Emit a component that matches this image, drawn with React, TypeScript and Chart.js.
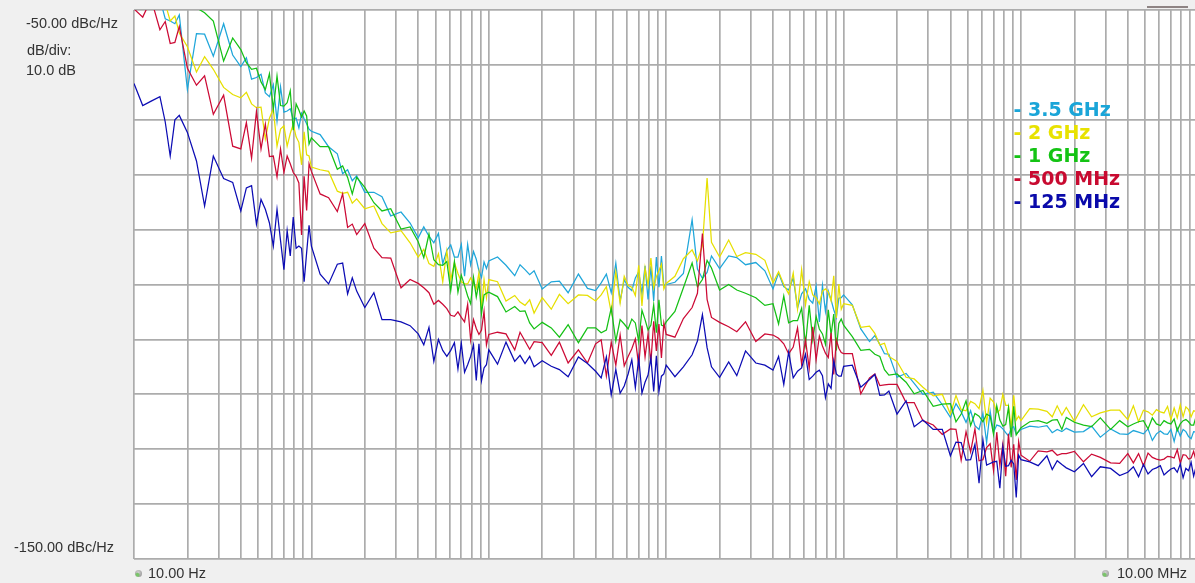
import React, { useEffect, useRef } from 'react';
import { Chart, registerables } from 'chart.js';

Chart.register(...registerables);

// Offset frequency (Hz), shared by every trace
const FREQS = [
  10, 11.2, 12.5, 14, 15, 16, 17, 18, 20, 22.5, 25, 28, 32, 36, 40, 43, 46, 49, 52, 55, 58, 61, 64, 67, 70, 73, 76, 79, 82, 85, 88, 91, 94, 97,
  100, 112, 125, 140, 150, 160, 170, 180, 200, 225, 250, 280, 320, 360, 400, 430, 460, 490, 520, 550, 580, 610, 640, 670, 700, 730, 760, 790, 820, 850, 880, 910, 940, 970,
  1000, 1120, 1250, 1400, 1500, 1600, 1700, 1800, 2000, 2250, 2500, 2800, 3200, 3600, 4000, 4300, 4600, 4900, 5200, 5500, 5800, 6100, 6400, 6700, 7000, 7300, 7600, 7900, 8200, 8500, 8800, 9100, 9400, 9700,
  1e4, 1.12e4, 1.25e4, 1.4e4, 1.5e4, 1.6e4, 1.7e4, 1.8e4, 2e4, 2.25e4, 2.5e4, 2.8e4, 3.2e4, 3.6e4, 4e4, 4.3e4, 4.6e4, 4.9e4, 5.2e4, 5.5e4, 5.8e4, 6.1e4, 6.4e4, 6.7e4, 7e4, 7.3e4, 7.6e4, 7.9e4, 8.2e4, 8.5e4, 8.8e4, 9.1e4, 9.4e4, 9.7e4,
  1e5, 1.12e5, 1.25e5, 1.4e5, 1.5e5, 1.6e5, 1.7e5, 1.8e5, 2e5, 2.25e5, 2.5e5, 2.8e5, 3.2e5, 3.6e5, 4e5, 4.3e5, 4.6e5, 4.9e5, 5.2e5, 5.5e5, 5.8e5, 6.1e5, 6.4e5, 6.7e5, 7e5, 7.3e5, 7.6e5, 7.9e5, 8.2e5, 8.5e5, 8.8e5, 9.1e5, 9.4e5, 9.7e5,
  1e6, 1.12e6, 1.25e6, 1.4e6, 1.5e6, 1.6e6, 1.7e6, 1.8e6, 2e6, 2.25e6, 2.5e6, 2.8e6, 3.2e6, 3.6e6, 4e6, 4.3e6, 4.6e6, 4.9e6, 5.2e6, 5.5e6, 5.8e6, 6.1e6, 6.4e6, 6.7e6, 7e6, 7.3e6, 7.6e6, 7.9e6, 8.2e6, 8.5e6, 8.8e6, 9.1e6, 9.4e6, 9.7e6,
  1e7,
];

// Phase noise, dBc/Hz
const NOISE_125M = [
  -63.4, -67.4, -66.6, -65.8, -70.4, -76.6, -70.0, -69.2, -72.3, -77.5, -85.7, -76.6, -80.7, -81.4, -86.6, -82.4, -82.0, -89.0, -84.5, -86.3, -88.8, -93.0, -86.3, -92.0, -97.3, -90.2, -94.8, -87.7, -93.4, -93.0, -93.4, -99.5, -94.2, -89.2,
  -93.0, -98.1, -99.9, -96.3, -96.1, -101.7, -98.8, -101.2, -104.2, -101.5, -106.4, -106.4, -106.8, -107.5, -109.0, -111.0, -107.8, -114.0, -110.0, -112.0, -113.1, -112.0, -110.6, -115.4, -110.7, -116.0, -114.6, -113.1, -111.0, -117.5, -110.8, -117.5, -115.2, -114.6,
  -111.9, -114.5, -110.5, -114.0, -112.9, -114.4, -113.1, -115.0, -113.9, -114.9, -115.5, -116.8, -113.2, -114.4, -115.8, -117.0, -113.2, -120.1, -115.5, -119.8, -118.5, -116.3, -113.7, -118.8, -113.4, -119.8, -117.8, -116.5, -113.4, -119.5, -113.0, -119.5, -116.7, -116.3,
  -114.7, -116.8, -115.0, -112.8, -110.3, -105.5, -111.5, -115.0, -116.9, -114.1, -116.6, -112.1, -114.3, -114.7, -115.6, -113.1, -118.2, -112.3, -117.0, -115.8, -115.2, -112.7, -117.3, -116.7, -116.0, -115.6, -116.6, -120.6, -118.1, -118.9, -113.9, -116.3, -116.7, -116.7,
  -114.9, -114.7, -118.7, -117.3, -116.4, -120.2, -120.1, -119.4, -123.6, -121.2, -125.9, -124.7, -126.4, -126.4, -131.2, -128.7, -128.8, -132.0, -131.9, -129.1, -136.2, -128.3, -132.9, -132.6, -132.3, -132.2, -137.1, -129.6, -133.1, -133.0, -132.0, -132.7, -138.8, -131.1,
  -131.9, -132.3, -133.0, -131.2, -133.7, -132.1, -132.8, -133.4, -134.1, -132.6, -135.0, -133.2, -133.5, -134.8, -134.2, -133.2, -135.0, -132.8, -134.5, -133.7, -133.4, -133.0, -134.7, -134.1, -133.6, -133.4, -134.2, -132.7, -135.2, -133.5, -133.9, -132.4, -134.9, -133.2,
  -133.8,
];

const NOISE_500M = [
  -49.8, -51.3, -48.0, -53.6, -52.1, -56.1, -55.9, -53.0, -60.6, -63.7, -62.0, -69.0, -65.5, -74.8, -75.3, -70.5, -77.0, -68.5, -75.3, -70.8, -76.7, -76.6, -80.4, -75.3, -79.6, -76.6, -78.0, -79.6, -80.3, -81.5, -91.0, -80.3, -86.5, -78.0,
  -79.4, -83.5, -84.2, -86.7, -83.5, -89.6, -89.0, -90.9, -88.9, -93.4, -95.1, -95.2, -100.6, -99.1, -99.8, -100.6, -101.5, -103.6, -102.9, -103.6, -104.4, -105.6, -105.8, -105.0, -106.0, -106.8, -103.6, -110.1, -106.4, -108.0, -109.1, -108.3, -104.9, -111.0,
  -109.1, -108.7, -109.0, -111.9, -108.7, -110.3, -111.8, -110.4, -110.6, -112.9, -110.5, -114.3, -111.9, -114.3, -110.8, -110.1, -116.7, -110.5, -114.7, -109.2, -114.8, -113.1, -111.7, -109.9, -114.8, -107.5, -113.2, -109.0, -114.2, -106.7, -112.1, -107.2, -113.4, -107.0,
  -109.1, -109.6, -106.2, -104.2, -101.6, -90.7, -102.7, -106.0, -106.9, -107.7, -108.6, -106.8, -110.4, -109.0, -109.2, -109.8, -110.8, -112.6, -111.4, -107.9, -114.5, -110.1, -115.3, -107.7, -113.7, -109.4, -111.2, -112.5, -113.3, -108.8, -116.4, -110.1, -111.6, -112.4,
  -112.6, -112.6, -119.9, -117.0, -116.3, -118.4, -118.3, -118.2, -118.2, -121.5, -121.5, -124.8, -125.6, -127.3, -126.3, -126.4, -132.0, -126.8, -130.5, -126.3, -132.1, -131.9, -129.7, -129.0, -133.9, -126.9, -133.0, -129.1, -134.9, -127.2, -133.3, -129.1, -135.6, -128.6,
  -131.1, -132.2, -130.3, -130.5, -130.2, -131.1, -130.8, -130.8, -130.4, -132.3, -130.9, -131.5, -132.5, -132.6, -130.8, -132.5, -130.8, -133.0, -130.7, -131.5, -131.8, -132.0, -131.8, -131.3, -131.4, -131.6, -130.1, -132.5, -131.0, -131.1, -131.8, -131.6, -130.4, -132.1,
  -131.2,
];

const NOISE_1G = [
  -42.0, -43.0, -44.0, -45.0, -45.5, -46.0, -47.0, -48.0, -49.7, -49.6, -50.5, -52.0, -59.3, -55.1, -57.2, -59.6, -60.8, -60.6, -63.1, -64.5, -61.6, -68.1, -62.0, -67.4, -67.5, -66.9, -64.7, -71.9, -67.1, -68.2, -69.5, -68.4, -69.3, -74.4,
  -73.3, -74.9, -74.9, -79.0, -78.4, -80.5, -83.5, -80.5, -82.3, -85.1, -86.6, -86.2, -89.9, -89.5, -92.2, -95.1, -90.8, -95.5, -96.4, -96.5, -95.8, -101.1, -95.8, -101.4, -98.3, -100.2, -102.1, -103.5, -98.7, -102.3, -99.6, -105.3, -101.9, -101.6,
  -101.4, -102.2, -105.0, -104.0, -104.9, -104.8, -107.0, -108.1, -106.9, -107.9, -109.6, -107.3, -110.6, -107.9, -107.9, -108.8, -108.3, -104.3, -110.3, -106.4, -107.2, -108.1, -106.3, -107.0, -110.4, -104.7, -106.4, -108.3, -107.4, -103.7, -108.8, -102.8, -107.4, -107.6,
  -106.8, -104.9, -100.6, -96.1, -100.4, -99.1, -95.6, -97.0, -101.0, -100.0, -101.0, -101.6, -102.4, -103.8, -103.5, -107.2, -102.1, -107.0, -106.6, -106.6, -104.3, -110.9, -103.8, -110.1, -105.8, -108.1, -109.0, -110.9, -104.6, -109.2, -105.4, -112.0, -107.1, -106.3,
  -107.4, -109.5, -112.0, -111.8, -112.7, -113.1, -115.5, -116.5, -116.3, -117.8, -119.9, -119.3, -122.2, -121.8, -121.7, -125.0, -123.6, -121.2, -125.7, -123.5, -124.0, -125.0, -123.6, -124.0, -127.3, -122.1, -124.7, -125.8, -125.5, -122.4, -127.8, -122.2, -127.4, -126.7,
  -126.1, -125.0, -124.8, -125.3, -124.7, -124.6, -126.4, -124.2, -125.1, -125.6, -125.9, -124.3, -126.4, -124.8, -125.9, -125.4, -125.0, -124.8, -126.3, -124.3, -125.4, -125.7, -124.8, -125.2, -125.4, -124.5, -126.6, -125.4, -124.8, -124.6, -125.0, -125.6, -125.6, -124.1,
  -125.2,
];

const NOISE_2G = [
  -45.0, -46.0, -47.0, -48.5, -48.8, -52.0, -51.1, -54.2, -56.7, -61.3, -58.5, -60.8, -64.1, -65.4, -66.0, -65.0, -67.1, -67.8, -67.7, -73.5, -69.7, -68.0, -74.8, -71.7, -71.1, -74.8, -72.5, -70.8, -73.1, -74.1, -78.2, -72.2, -76.4, -76.6,
  -78.6, -79.1, -79.4, -83.0, -83.4, -83.2, -85.2, -84.4, -86.2, -85.7, -88.9, -90.6, -90.2, -92.4, -95.0, -93.6, -96.2, -96.7, -94.4, -99.5, -93.9, -99.1, -96.0, -98.0, -99.5, -99.9, -99.9, -98.8, -99.8, -100.8, -97.8, -104.5, -99.1, -102.4,
  -99.1, -99.5, -103.0, -102.0, -103.2, -103.8, -102.8, -105.2, -102.4, -104.5, -101.8, -103.5, -101.9, -102.0, -103.0, -101.9, -100.4, -105.1, -97.7, -103.4, -98.5, -100.2, -100.5, -102.0, -96.5, -103.9, -97.0, -100.1, -95.2, -100.6, -98.6, -97.5, -96.3, -100.8,
  -99.8, -98.5, -95.3, -93.7, -95.7, -92.9, -80.6, -92.3, -95.0, -91.9, -94.9, -94.2, -94.5, -95.6, -99.7, -97.7, -100.0, -101.7, -97.9, -104.5, -97.3, -103.7, -99.5, -101.9, -102.4, -103.5, -101.2, -100.8, -101.4, -103.0, -98.4, -106.1, -99.9, -104.5,
  -103.5, -103.8, -107.8, -107.6, -108.9, -111.0, -110.7, -113.1, -114.0, -116.9, -117.2, -118.7, -120.3, -120.0, -123.6, -120.2, -122.8, -123.0, -121.3, -121.7, -122.6, -119.3, -125.2, -120.7, -121.4, -123.3, -122.9, -120.0, -122.0, -122.0, -126.1, -120.2, -124.7, -124.0,
  -124.8, -122.6, -122.7, -123.1, -124.1, -122.1, -123.8, -122.4, -124.9, -121.9, -124.1, -123.4, -122.9, -122.9, -124.6, -122.1, -125.0, -122.9, -123.2, -123.8, -122.8, -123.2, -123.4, -122.2, -124.6, -122.5, -124.3, -121.9, -124.1, -122.3, -122.8, -124.1, -123.0, -123.1,
  -123.1,
];

const NOISE_3G5 = [
  -44.0, -45.0, -46.0, -48.0, -51.6, -52.0, -52.5, -50.9, -64.5, -54.3, -54.4, -58.4, -52.5, -58.2, -60.3, -58.7, -62.6, -62.3, -61.7, -65.1, -65.8, -63.6, -70.2, -64.0, -68.6, -68.4, -68.0, -69.9, -69.7, -71.5, -68.8, -69.8, -70.7, -71.7,
  -72.1, -72.7, -74.9, -76.2, -79.8, -79.1, -81.1, -80.2, -83.2, -83.2, -84.0, -87.5, -86.8, -88.8, -91.5, -89.5, -91.2, -92.4, -90.7, -96.2, -93.8, -92.8, -95.0, -95.0, -92.7, -98.5, -92.7, -96.4, -94.0, -95.4, -97.5, -98.7, -95.9, -97.1,
  -95.7, -95.0, -96.5, -98.4, -96.4, -97.3, -98.2, -97.5, -100.8, -99.5, -99.4, -101.5, -98.1, -100.7, -101.1, -99.7, -98.1, -101.5, -96.1, -103.0, -99.1, -100.5, -101.1, -98.8, -97.7, -101.7, -96.6, -102.7, -96.7, -103.0, -95.0, -100.5, -94.8, -100.3,
  -100.0, -99.6, -98.0, -88.2, -97.2, -98.9, -97.8, -94.8, -97.1, -94.8, -95.1, -96.4, -96.0, -97.5, -100.8, -97.9, -100.4, -101.0, -98.8, -104.3, -101.7, -100.8, -102.7, -103.4, -100.3, -106.8, -100.2, -104.9, -101.2, -102.8, -104.6, -106.0, -102.5, -102.4,
  -101.9, -103.7, -108.1, -110.4, -109.3, -110.9, -112.6, -112.7, -116.9, -116.2, -118.0, -120.0, -119.6, -121.9, -124.2, -121.7, -123.2, -125.1, -123.0, -125.7, -126.4, -123.5, -128.8, -123.1, -126.9, -125.6, -125.8, -126.3, -127.0, -127.6, -126.2, -125.9, -127.3, -126.8,
  -126.4, -125.8, -126.0, -125.7, -127.0, -126.4, -126.8, -126.2, -126.9, -126.8, -125.8, -127.8, -126.3, -127.2, -127.3, -126.6, -126.9, -127.2, -126.3, -128.4, -127.2, -126.7, -127.2, -127.3, -126.4, -128.6, -126.2, -127.6, -126.4, -126.8, -127.7, -128.1, -126.8, -126.9,
  -127.1,
];

// Vertical grid lines (Hz)
const GRID_FREQS = [
  10, 20, 30, 40, 50, 60, 70, 80, 90,
  100, 200, 300, 400, 500, 600, 700, 800, 900,
  1000, 2000, 3000, 4000, 5000, 6000, 7000, 8000, 9000,
  1e4, 2e4, 3e4, 4e4, 5e4, 6e4, 7e4, 8e4, 9e4,
  1e5, 2e5, 3e5, 4e5, 5e5, 6e5, 7e5, 8e5, 9e5,
  1e6, 2e6, 3e6, 4e6, 5e6, 6e6, 7e6, 8e6, 9e6,
  1e7,
];

const X_MIN = 10;
const X_MAX = 1e7;
const Y_MIN = -150;
const Y_MAX = -50;
const Y_STEP = 10;

const SERIES_LABELS = ['3.5 GHz', '2 GHz', '1 GHz', '500 MHz', '125 MHz'];
const SERIES_VALUES = [NOISE_3G5, NOISE_2G, NOISE_1G, NOISE_500M, NOISE_125M];
const SERIES_COLORS = ['#1fa6da', '#e6df00', '#14c014', '#cc0a35', '#0c0cb4'];
const LEGEND_COLORS = ['#1aa5d8', '#e8e200', '#14c314', '#c80a30', '#0a0aaa'];

const CANVAS_W = 1215;
const CANVAS_H = 583;

const plotBg = {
  id: 'plotBg',
  beforeDraw(chart: any) {
    const { ctx, chartArea } = chart;
    if (!chartArea) return;
    ctx.save();
    ctx.fillStyle = '#ffffff';
    ctx.fillRect(chartArea.left, chartArea.top, chartArea.right - chartArea.left, chartArea.bottom - chartArea.top);
    ctx.restore();
  },
};

function App() {
  const ref = useRef<HTMLCanvasElement | null>(null);

  useEffect(() => {
    if (!ref.current) return;
    // first dataset is drawn on top
    const order = [4, 3, 2, 1, 0];
    const datasets = order.map((si) => ({
      label: SERIES_LABELS[si],
      data: FREQS.map((f, i) => ({ x: f, y: SERIES_VALUES[si][i] })),
      borderColor: SERIES_COLORS[si],
      backgroundColor: SERIES_COLORS[si],
      borderWidth: 1.25,
      pointRadius: 0,
      tension: 0,
      fill: false,
    }));
    const chart = new Chart(ref.current, {
      type: 'line',
      data: { datasets },
      plugins: [plotBg],
      options: {
        animation: false,
        responsive: false,
        maintainAspectRatio: false,
        events: [],
        layout: {
          padding: { left: 134, top: 10, right: CANVAS_W - 1198.4, bottom: CANVAS_H - 559 },
        },
        plugins: {
          legend: { display: false },
          tooltip: { enabled: false },
        },
        scales: {
          x: {
            type: 'logarithmic',
            min: X_MIN,
            max: X_MAX,
            afterBuildTicks: (scale: any) => {
              scale.ticks = GRID_FREQS.map((v) => ({ value: v }));
            },
            afterFit: (scale: any) => {
              scale.height = 0;
            },
            ticks: { display: false },
            border: { display: false },
            grid: { color: '#acacac', lineWidth: 1.7, drawTicks: false },
          },
          y: {
            type: 'linear',
            min: Y_MIN,
            max: Y_MAX,
            ticks: { display: false, stepSize: Y_STEP },
            afterFit: (scale: any) => {
              scale.width = 0;
            },
            border: { display: false },
            grid: { color: '#acacac', lineWidth: 1.7, drawTicks: false },
          },
        },
      } as any,
    });
    return () => chart.destroy();
  }, []);

  const uiFont = '14.5px "Liberation Sans", Arial, sans-serif';
  const textStyle = (left: number, top: number): React.CSSProperties => ({
    position: 'absolute',
    left,
    top,
    font: uiFont,
    lineHeight: '16px',
    color: '#333333',
    whiteSpace: 'nowrap',
  });
  const dot = (left: number, top: number): React.CSSProperties => ({
    position: 'absolute',
    left,
    top,
    width: 7,
    height: 7,
    borderRadius: '50%',
    background: 'radial-gradient(circle at 35% 70%, #7ac46a 0, #7ac46a 22%, rgba(0,0,0,0) 40%), radial-gradient(circle at 45% 35%, #d4d4d4, #8a8a8a)',
  });

  return (
    <div
      style={{
        position: 'fixed',
        left: 0,
        top: 0,
        width: 1195,
        height: 583,
        overflow: 'hidden',
        background: '#f0f0f0',
      }}
    >
      <canvas
        ref={ref}
        width={CANVAS_W}
        height={CANVAS_H}
        style={{ position: 'absolute', left: 0, top: 0, width: CANVAS_W, height: CANVAS_H }}
      />
      <div style={textStyle(26, 15)}>-50.00 dBc/Hz</div>
      <div style={textStyle(27, 42)}>dB/div:</div>
      <div style={textStyle(26, 62)}>10.0 dB</div>
      <div style={textStyle(14, 539)}>-150.00 dBc/Hz</div>
      <div style={dot(135, 570)} />
      <div style={textStyle(148, 565)}>10.00 Hz</div>
      <div style={dot(1102, 570)} />
      <div style={textStyle(1117, 565)}>10.00 MHz</div>
      <div style={{ position: 'absolute', left: 1147, top: 6, width: 41, height: 2, background: '#8e8484' }} />
      <div
        style={{
          position: 'absolute',
          left: 1013.5,
          top: 98,
          font: 'bold 19px "DejaVu Sans", sans-serif',
          lineHeight: '22.9px',
          whiteSpace: 'pre',
        }}
      >
        {SERIES_LABELS.map((lab, i) => (
          <div key={lab} style={{ color: LEGEND_COLORS[i] }}>
            {'- ' + lab}
          </div>
        ))}
      </div>
    </div>
  );
}

export default App;
